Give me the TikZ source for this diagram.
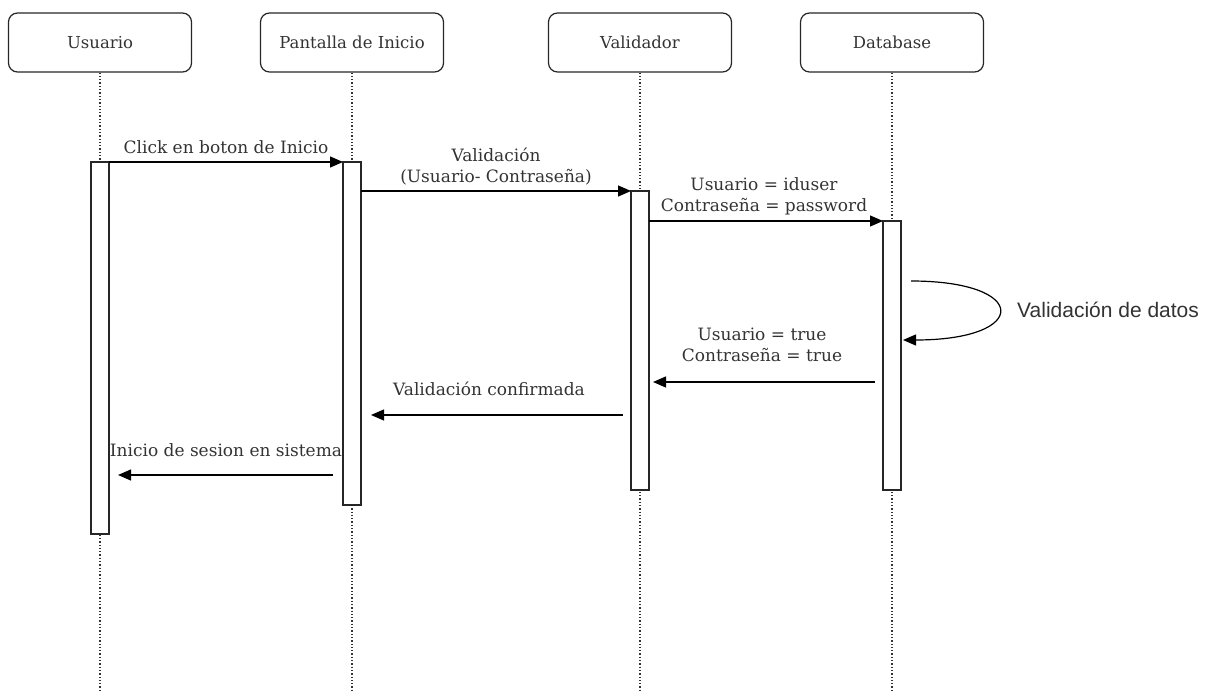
\documentclass[tikz,border=0pt]{standalone}
\usepackage{fontspec}
\setmainfont{DejaVu Serif}
\newfontfamily\labelsans{Liberation Sans}
\usetikzlibrary{arrows.meta}
\definecolor{txt}{HTML}{333333}
\tikzset{
  x=1pt, y=-1pt,
  head/.style={draw=black!85, line width=1.2pt, rounded corners=9pt, minimum width=183pt, minimum height=59pt, text=txt, font=\fontsize{16.5}{19}\selectfont, anchor=center},
  life/.style={draw=black!80, line width=1.3pt, dotted},
  act/.style={draw=black!85, fill=white, line width=1.2pt},
  msg/.style={draw=black, line width=1.2pt, -{Triangle[length=13pt,width=11pt]}},
  lbl/.style={text=txt, font=\fontsize{17}{21}\selectfont, align=center, inner sep=0pt},
}
\begin{document}
\begin{tikzpicture}
\useasboundingbox (0,0) rectangle (1206,692);
% headers
\node[head] (hU) at (100,42.5) {Usuario};
\node[head] (hP) at (352,42.5) {Pantalla de Inicio};
\node[head] (hV) at (640,42.5) {Validador};
\node[head] (hD) at (892,42.5) {Database};
% lifelines
\coordinate (eU) at (100,692);
\coordinate (eP) at (352,692);
\coordinate (eV) at (640,692);
\coordinate (eD) at (892,692);
\draw[life] (hU.south) -- (eU);
\draw[life] (hP.south) -- (eP);
\draw[life] (hV.south) -- (eV);
\draw[life] (hD.south) -- (eD);
% activations
\draw[act] (91,162) rectangle (109,534);
\draw[act] (343,162) rectangle (361,505);
\draw[act] (631,191) rectangle (649,490);
\draw[act] (883,221) rectangle (901,490);
\coordinate (a1s) at (109,162); \coordinate (a1e) at (343,162);
\coordinate (a2s) at (361,191); \coordinate (a2e) at (631,191);
\coordinate (a3s) at (649,221); \coordinate (a3e) at (883,221);
\coordinate (l1) at (911,281); \coordinate (l2) at (903,340);
\coordinate (a5s) at (875,382); \coordinate (a5e) at (653,382);
\coordinate (a6s) at (623,415); \coordinate (a6e) at (371,415);
\coordinate (a7s) at (333,475); \coordinate (a7e) at (118,475);
% messages
\draw[msg] (a1s) -- (a1e);
\draw[msg] (a2s) -- (a2e);
\draw[msg] (a3s) -- (a3e);
\draw[msg] (l1) .. controls (1030,281) and (1030,340) .. (l2);
\draw[msg] (a5s) -- (a5e);
\draw[msg] (a6s) -- (a6e);
\draw[msg] (a7s) -- (a7e);
% labels
\node[lbl] (t1) at (226,147) {Click en boton de Inicio};
\node[lbl] (t2) at (496,167) {Validación\\(Usuario- Contraseña)};
\node[lbl] (t3) at (764,196) {Usuario = iduser\\Contraseña = password};
\node[lbl, anchor=west, font=\labelsans\fontsize{21}{24}\selectfont] (t4) at (1017,310) {Validación de datos};
\node[lbl] (t5) at (762,345) {Usuario = true\\Contraseña = true};
\node[lbl] (t6) at (489,389) {Validación confirmada};
\node[lbl] (t7) at (226,450) {Inicio de sesion en sistema};
\end{tikzpicture}
\end{document}
